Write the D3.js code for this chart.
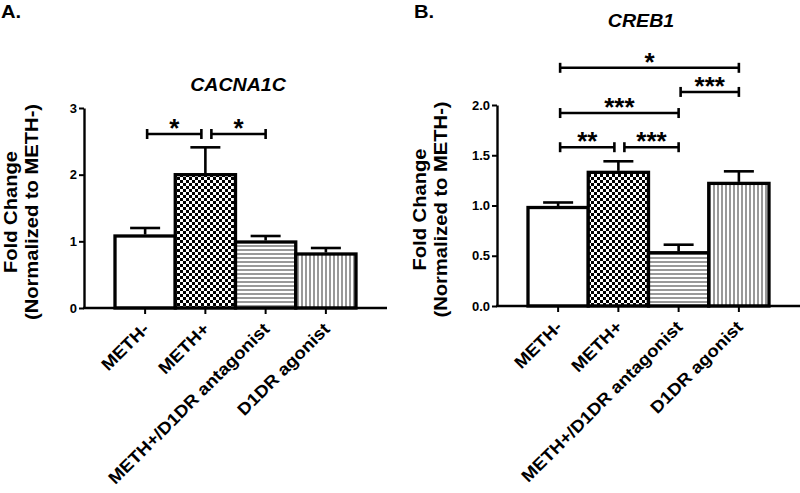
<!DOCTYPE html>
<html>
<head>
<meta charset="utf-8">
<script src="https://cdn.jsdelivr.net/npm/d3@7/dist/d3.min.js"></script>
<style>
  html, body { margin: 0; padding: 0; background: #fff; }
  svg { display: block; }
  text { font-family: "Liberation Sans", Arial, sans-serif; font-weight: bold; fill: #000; }
</style>
</head>
<body>
<svg id="chart" width="800" height="493"></svg>
<script>
// ---------------- data ----------------
const categories = ["METH-", "METH+", "METH+/D1DR antagonist", "D1DR agonist"];
const patterns = ["none", "checker", "hlines", "vlines"];

const cacnaMeans = [1.08, 2.00, 0.99, 0.81];
const cacnaErrors = [0.12, 0.41, 0.09, 0.09];
const cacnaTicks = [0, 1, 2, 3];
const cacnaSig = [
  { from: 0, to: 1, level: 2.61, label: "*" },
  { from: 1, to: 2, level: 2.61, label: "*" }
];

const crebMeans = [0.98, 1.33, 0.53, 1.22];
const crebErrors = [0.05, 0.11, 0.08, 0.12];
const crebTicks = [0, 0.5, 1.0, 1.5, 2.0];
const crebSig = [
  { from: 0, to: 3, level: 2.37, label: "*" },
  { from: 2, to: 3, level: 2.13, label: "***" },
  { from: 0, to: 2, level: 1.92, label: "***" },
  { from: 0, to: 1, level: 1.58, label: "**" },
  { from: 1, to: 2, level: 1.58, label: "***" }
];

// ---------------- drawing ----------------
const svg = d3.select("#chart");
const defs = svg.append("defs");

const chk = defs.append("pattern").attr("id", "checker")
  .attr("patternUnits", "userSpaceOnUse").attr("width", 6).attr("height", 6);
chk.append("rect").attr("width", 6).attr("height", 6).attr("fill", "#fff");
chk.append("rect").attr("width", 3).attr("height", 3).attr("fill", "#000");
chk.append("rect").attr("x", 3).attr("y", 3).attr("width", 3).attr("height", 3).attr("fill", "#000");
const hl = defs.append("pattern").attr("id", "hlines")
  .attr("patternUnits", "userSpaceOnUse").attr("width", 4).attr("height", 4);
hl.append("rect").attr("width", 4).attr("height", 4).attr("fill", "#fff");
hl.append("rect").attr("y", 1.5).attr("width", 4).attr("height", 1).attr("fill", "#333");
const vl = defs.append("pattern").attr("id", "vlines")
  .attr("patternUnits", "userSpaceOnUse").attr("width", 4).attr("height", 4);
vl.append("rect").attr("width", 4).attr("height", 4).attr("fill", "#fff");
vl.append("rect").attr("x", 1.5).attr("width", 1).attr("height", 4).attr("fill", "#333");

function fillFor(p) { return p === "none" ? "#fff" : "url(#" + p + ")"; }

function panel(opt) {
  const g = svg.append("g");
  const y = d3.scaleLinear().domain(opt.domain).range([opt.y0, opt.y1]);
  const x = d3.scaleBand().domain(categories).range([opt.xl + 31, opt.xl + 272]).padding(0);
  const bw = x.bandwidth();
  const cx = i => x(categories[i]) + bw / 2;

  // y axis
  const ya = g.append("g").attr("transform", `translate(${opt.xl},0)`)
    .call(d3.axisLeft(y).tickValues(opt.ticks).tickSize(5).tickSizeOuter(0).tickFormat(opt.fmt));
  ya.select(".domain").attr("stroke-width", 2.4);
  ya.selectAll(".tick line").attr("stroke-width", 2);
  ya.selectAll(".tick text").style("font-size", "13px").attr("x", -7)
    .style("font-family", "'Liberation Sans', Arial, sans-serif").style("font-weight", "bold");

  // bars
  g.selectAll("rect.bar").data(opt.means).enter().append("rect")
    .attr("class", "bar")
    .attr("x", (d, i) => x(categories[i]))
    .attr("width", bw)
    .attr("y", d => y(d))
    .attr("height", d => y(0) - y(d))
    .attr("fill", (d, i) => fillFor(patterns[i]))
    .attr("stroke", "#000").attr("stroke-width", 3.3);

  // error bars
  opt.means.forEach((m, i) => {
    const top = y(m + opt.errs[i]);
    g.append("line").attr("x1", cx(i)).attr("x2", cx(i)).attr("y1", y(m) - 1.5).attr("y2", top)
      .attr("stroke", "#000").attr("stroke-width", 2.6);
    g.append("line").attr("x1", cx(i) - 15).attr("x2", cx(i) + 15).attr("y1", top).attr("y2", top)
      .attr("stroke", "#000").attr("stroke-width", 2.6);
  });

  // x axis
  const xa = g.append("g").attr("transform", `translate(0,${y(0)})`)
    .call(d3.axisBottom(x).tickSize(6).tickSizeOuter(0));
  xa.select(".domain").remove();
  xa.selectAll(".tick line").attr("stroke-width", 2);
  xa.selectAll(".tick text").remove();
  g.append("line").attr("x1", opt.xl - 1).attr("x2", opt.xl + 303).attr("y1", y(0)).attr("y2", y(0))
    .attr("stroke", "#000").attr("stroke-width", 2.4);

  categories.forEach((c, i) => {
    g.append("text")
      .attr("transform", `translate(${cx(i) + 5},${y(0) + 22}) rotate(-45) scale(1.1,1)`)
      .attr("text-anchor", "end")
      .style("font-size", "17px")
      .text(c);
  });

  // significance brackets
  opt.sig.forEach(s => {
    const sharedStart = opt.sig.some(o => o !== s && o.level === s.level && o.to === s.from);
    const sharedEnd = opt.sig.some(o => o !== s && o.level === s.level && o.from === s.to);
    const x1 = cx(s.from) + (sharedStart ? 6 : 2);
    const x2 = cx(s.to) - (sharedEnd ? 4 : 0);
    const yy = y(s.level);
    g.append("line").attr("x1", x1).attr("x2", x2).attr("y1", yy).attr("y2", yy)
      .attr("stroke", "#000").attr("stroke-width", 2.6);
    [x1, x2].forEach(xx => g.append("line").attr("x1", xx).attr("x2", xx)
      .attr("y1", yy - 5).attr("y2", yy + 5).attr("stroke", "#000").attr("stroke-width", 2.6));
    g.append("text").attr("x", (x1 + x2) / 2).attr("y", yy + 3)
      .attr("text-anchor", "middle").style("font-size", "26px").text(s.label);
  });

  // title
  g.append("text").attr("transform", `translate(${opt.titleX},${opt.titleY}) scale(1.12,1)`)
    .attr("text-anchor", "middle").style("font-size", "17.5px").style("font-style", "italic")
    .text(opt.title);

  // y label
  const ymid = (opt.y0 + opt.y1) / 2 + 4;
  g.append("text").attr("transform", `translate(${opt.labX},${ymid}) rotate(-90) scale(1.12,1)`)
    .attr("text-anchor", "middle").style("font-size", "18px").text("Fold Change");
  g.append("text").attr("transform", `translate(${opt.labX + 21},${ymid}) rotate(-90) scale(1.12,1)`)
    .attr("text-anchor", "middle").style("font-size", "18px").text("(Normalized to METH-)");

  // panel letter
  g.append("text").attr("transform", `translate(${opt.letterX},18) scale(1.12,1)`)
    .style("font-size", "18px").text(opt.letter);
}

panel({ domain: [0, 3], y0: 308, y1: 108, xl: 84, ticks: cacnaTicks, fmt: d3.format("d"),
  means: cacnaMeans, errs: cacnaErrors, sig: cacnaSig, title: "CACNA1C", titleX: 238, titleY: 91,
  labX: 17, letter: "A.", letterX: 1 });
panel({ domain: [0, 2], y0: 306, y1: 105, xl: 497, ticks: crebTicks, fmt: d3.format(".1f"),
  means: crebMeans, errs: crebErrors, sig: crebSig, title: "CREB1", titleX: 641, titleY: 27,
  labX: 426, letter: "B.", letterX: 414 });
</script>
</body>
</html>
